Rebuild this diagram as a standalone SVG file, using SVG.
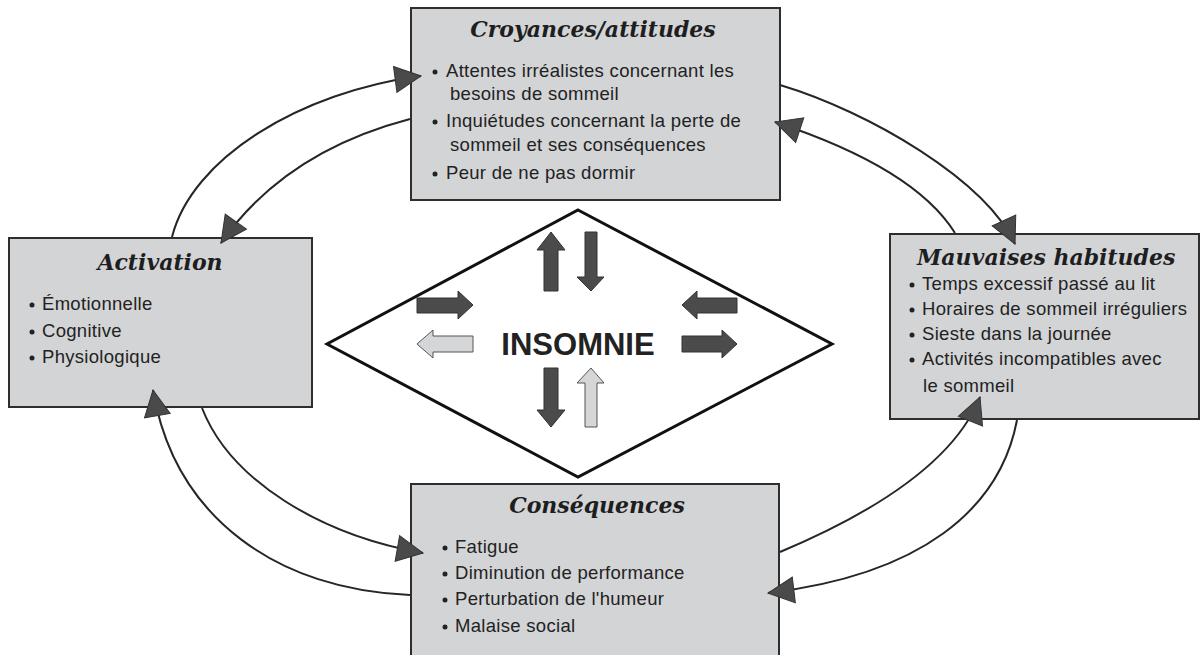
<svg xmlns="http://www.w3.org/2000/svg" width="1201" height="655" viewBox="0 0 1201 655">
<style>
.box{fill:#d3d4d6;stroke:#2e2e2e;stroke-width:2}
.title{font-family:"DejaVu Serif",serif;font-weight:bold;font-style:italic;font-size:22px;fill:#1e1e1e}
.txt{font-family:"Liberation Sans",Arial,sans-serif;font-size:18.5px;letter-spacing:0.3px;fill:#222}
.bul{fill:#222}
.con{fill:none;stroke:#262626;stroke-width:2}
.dark{fill:#4b4b4b;stroke:#333;stroke-width:1}
.light{fill:#d5d6d8;stroke:#555;stroke-width:1}
</style>
<defs>
<marker id="ah" markerUnits="userSpaceOnUse" markerWidth="28" markerHeight="28" refX="26" refY="13" orient="auto" overflow="visible">
<path d="M0,0 L26,13 L0,26 z" fill="#4a4a4a" stroke="#333" stroke-width="1"/>
</marker>
</defs>
<rect width="1201" height="655" fill="#fff"/>

<g id="croyances">
<rect class="box" x="411" y="8" width="369" height="192"/>
<text class="title" x="593" y="37" text-anchor="middle">Croyances/attitudes</text>
<circle class="bul" cx="435" cy="72" r="2.5"/>
<text class="txt" x="446" y="77">Attentes irréalistes concernant les</text>
<text class="txt" x="450" y="100">besoins de sommeil</text>
<circle class="bul" cx="435" cy="122" r="2.5"/>
<text class="txt" x="446" y="127">Inquiétudes concernant la perte de</text>
<text class="txt" x="450" y="151">sommeil et ses conséquences</text>
<circle class="bul" cx="435" cy="174" r="2.5"/>
<text class="txt" x="446" y="179">Peur de ne pas dormir</text>
</g>

<g id="activation">
<rect class="box" x="9" y="238" width="303" height="169"/>
<text class="title" x="160" y="270" text-anchor="middle">Activation</text>
<circle class="bul" cx="32" cy="305" r="2.5"/>
<text class="txt" x="42" y="310">Émotionnelle</text>
<circle class="bul" cx="32" cy="332" r="2.5"/>
<text class="txt" x="42" y="337">Cognitive</text>
<circle class="bul" cx="32" cy="358" r="2.5"/>
<text class="txt" x="42" y="363">Physiologique</text>
</g>

<g id="mauvaises">
<rect class="box" x="890" y="234" width="309" height="185"/>
<text class="title" x="917" y="265">Mauvaises habitudes</text>
<circle class="bul" cx="912" cy="285" r="2.5"/>
<text class="txt" x="922" y="290">Temps excessif passé au lit</text>
<circle class="bul" cx="912" cy="310" r="2.5"/>
<text class="txt" x="922" y="315">Horaires de sommeil irréguliers</text>
<circle class="bul" cx="912" cy="335" r="2.5"/>
<text class="txt" x="922" y="340">Sieste dans la journée</text>
<circle class="bul" cx="912" cy="360" r="2.5"/>
<text class="txt" x="922" y="365">Activités incompatibles avec</text>
<text class="txt" x="923" y="392">le sommeil</text>
</g>

<g id="consequences">
<rect class="box" x="411" y="484" width="368" height="185"/>
<text class="title" x="597" y="513" text-anchor="middle">Conséquences</text>
<circle class="bul" cx="445" cy="548" r="2.5"/>
<text class="txt" x="455" y="553">Fatigue</text>
<circle class="bul" cx="445" cy="574" r="2.5"/>
<text class="txt" x="455" y="579">Diminution de performance</text>
<circle class="bul" cx="445" cy="600" r="2.5"/>
<text class="txt" x="455" y="605">Perturbation de l'humeur</text>
<circle class="bul" cx="445" cy="627" r="2.5"/>
<text class="txt" x="455" y="632">Malaise social</text>
</g>

<g id="insomnie">
<polygon points="578,210 832,344 578,477 327,344" fill="#fff" stroke="#111" stroke-width="3" stroke-linejoin="miter"/>
<text x="578" y="355" text-anchor="middle" font-family="Liberation Sans, Arial, sans-serif" font-weight="bold" font-size="31" fill="#222">INSOMNIE</text>
<polygon class="dark" points="551,232 565,250 558,250 558,291 544,291 544,250 537,250"/>
<polygon class="dark" points="591,291 604,277 597,277 597,232 585,232 585,277 577,277"/>
<polygon class="dark" points="473,305 458,291 458,298 417,298 417,313 458,313 458,319"/>
<polygon class="light" points="417,344 433,330 433,336 473,336 473,352 433,352 433,358"/>
<polygon class="dark" points="682,305 697,291 697,298 737,298 737,313 697,313 697,319"/>
<polygon class="dark" points="737,344 722,330 722,336 682,336 682,352 722,352 722,358"/>
<polygon class="dark" points="551,427 565,410 558,410 558,368 544,368 544,410 537,410"/>
<polygon class="light" points="591,368 604,383 597,383 597,427 585,427 585,383 577,383"/>
</g>

<g id="connectors">
<path class="con" d="M172,237 C192,158 300,92 421,76" marker-end="url(#ah)"/>
<path class="con" d="M410,119 C330,140 265,180 221,243" marker-end="url(#ah)"/>
<path class="con" d="M780,85 C870,112 985,180 1015,244" marker-end="url(#ah)"/>
<path class="con" d="M955,233 C925,185 860,150 775,122" marker-end="url(#ah)"/>
<path class="con" d="M410,595 C280,590 175,520 153,390" marker-end="url(#ah)"/>
<path class="con" d="M202,408 C230,480 320,535 423,553" marker-end="url(#ah)"/>
<path class="con" d="M780,552 C880,510 955,460 980,397" marker-end="url(#ah)"/>
<path class="con" d="M1017,420 C1000,510 920,575 768,593" marker-end="url(#ah)"/>
</g>
</svg>
